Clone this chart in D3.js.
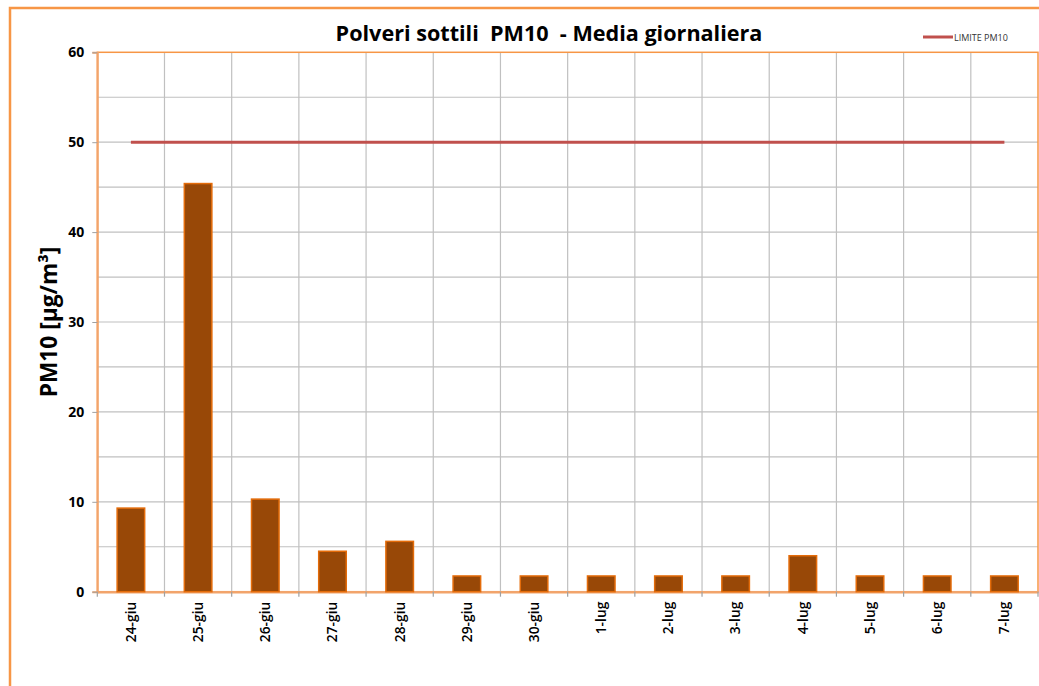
<!DOCTYPE html>
<html><head><meta charset="utf-8">
<script src="https://cdn.jsdelivr.net/npm/d3@7"></script>
<style>body{margin:0;background:#fff;} svg{display:block;}</style>
</head><body>
<svg id="c" width="1039" height="686"></svg>
<script>
const categories = ["24-giu","25-giu","26-giu","27-giu","28-giu","29-giu","30-giu","1-lug","2-lug","3-lug","4-lug","5-lug","6-lug","7-lug"];
const pm10Values = [9.3,45.4,10.3,4.5,5.6,1.75,1.75,1.75,1.75,1.75,4.0,1.75,1.75,1.75];
const limitValues = [50,50,50,50,50,50,50,50,50,50,50,50,50,50];
const yTicks = [0,10,20,30,40,50,60];
const yGrid = [5,10,15,20,25,30,35,40,45,50,55];
const titleText = "Polveri sottili  PM10  - Media giornaliera";
const yLabel = "PM10 [µg/m³]";
const legendLabel = "LIMITE PM10";

const svg = d3.select("#c");
const font = "'Open Sans', 'Liberation Sans', sans-serif";
const L = 97.3, R = 1038, T = 52.3, B = 591.7;

// outer border
svg.append("rect").attr("x",10).attr("y",8).attr("width",1040).attr("height",700)
  .attr("fill","none").attr("stroke","#F79646").attr("stroke-width",2.5);

const x = d3.scaleBand().domain(categories).range([L,R]).paddingInner(0).paddingOuter(0);
const y = d3.scaleLinear().domain([0,60]).range([B,T]);

// horizontal grid
svg.append("g").selectAll("line").data(yGrid).join("line")
  .attr("x1",L).attr("x2",R).attr("y1",d=>y(d)).attr("y2",d=>y(d))
  .attr("stroke","#C0C0C0").attr("stroke-width",1.2);
// vertical grid
svg.append("g").selectAll("line").data(categories.slice(1)).join("line")
  .attr("x1",d=>x(d)).attr("x2",d=>x(d)).attr("y1",T).attr("y2",B)
  .attr("stroke","#C0C0C0").attr("stroke-width",1.2);

// plot border
svg.append("rect").attr("x",L).attr("y",T).attr("width",R-L).attr("height",B-T)
  .attr("fill","none").attr("stroke","#F79646").attr("stroke-width",1.5);

// y axis
const yAxis = d3.axisLeft(y).tickValues(yTicks).tickSize(5).tickPadding(8);
const gy = svg.append("g").attr("transform",`translate(${L},0)`).call(yAxis);
gy.select(".domain").attr("stroke","#F2A46B").attr("stroke-width",2);
gy.selectAll(".tick line").attr("stroke","#A0A0A0");
gy.selectAll(".tick text").attr("font-family",font).attr("font-weight","bold").attr("font-size",14).attr("fill","#000");

// x axis
const xAxis = d3.axisBottom(x).tickSize(0).tickPadding(0);
const gx = svg.append("g").attr("transform",`translate(0,${B})`).call(xAxis);
gx.select(".domain").attr("stroke","#F2A46B").attr("stroke-width",2.5);
gx.selectAll(".tick text").attr("font-family",font).attr("font-weight","600").attr("font-size",13.8).attr("fill","#000")
  .attr("transform","rotate(-90)").attr("text-anchor","end").attr("x",-10).attr("y",0).attr("dy","0.35em");
// boundary tick marks
svg.append("g").selectAll("line").data(categories.concat(["_end"])).join("line")
  .attr("x1",(d,i)=> i<categories.length ? x(d) : R).attr("x2",(d,i)=> i<categories.length ? x(d) : R)
  .attr("y1",B).attr("y2",B+5).attr("stroke","#A0A0A0").attr("stroke-width",1.2);

// bars
const bw = x.bandwidth()*0.41;
svg.append("g").selectAll("rect").data(pm10Values).join("rect")
  .attr("x",(d,i)=>x(categories[i])+x.bandwidth()/2-bw/2)
  .attr("width",bw)
  .attr("y",d=>y(d)).attr("height",d=>B-y(d))
  .attr("fill","#984807").attr("stroke","#E46C0A").attr("stroke-width",1.5);

// limit line
const line = d3.line().x((d,i)=>x(categories[i])+x.bandwidth()/2).y(d=>y(d));
svg.append("path").datum(limitValues).attr("d",line)
  .attr("fill","none").attr("stroke","#C0504D").attr("stroke-width",3);

// title
svg.append("text").attr("x",549).attr("y",41).attr("text-anchor","middle")
  .attr("font-family",font).attr("font-weight","bold").attr("font-size",21.6).attr("fill","#000")
  .attr("xml:space","preserve").style("white-space","pre").text(titleText);

// y label
svg.append("text").attr("transform","translate(57,322) rotate(-90)").attr("text-anchor","middle")
  .attr("font-family",font).attr("font-weight","bold").attr("font-size",22.7).attr("fill","#000").text(yLabel);

// legend
svg.append("line").attr("x1",923).attr("x2",953).attr("y1",37).attr("y2",37)
  .attr("stroke","#C0504D").attr("stroke-width",3);
svg.append("text").attr("x",954).attr("y",40.5).attr("font-family",font).attr("font-size",9).attr("fill","#333").text(legendLabel);
</script>
</body></html>
